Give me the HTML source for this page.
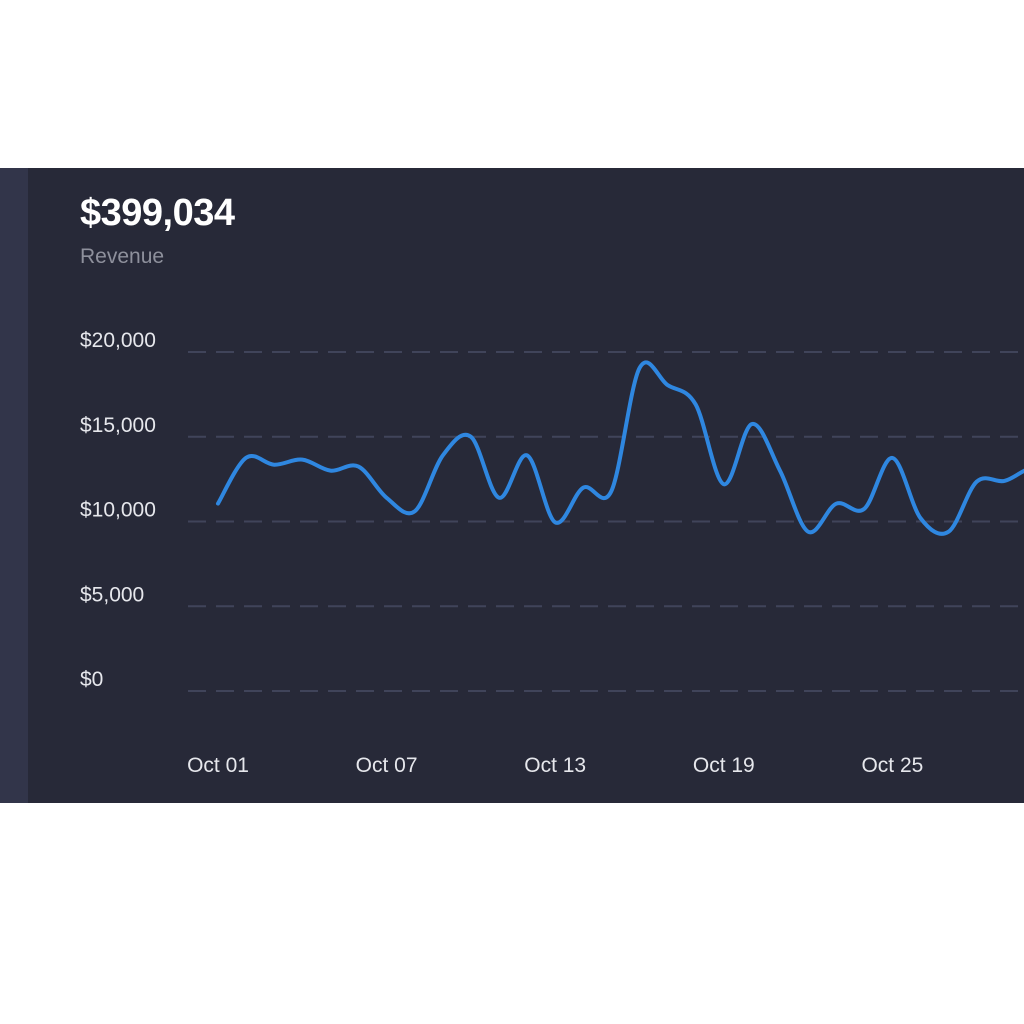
<!DOCTYPE html>
<html><head><meta charset="utf-8"><style>
html,body{margin:0;padding:0;background:#fff;width:1024px;height:1024px;overflow:hidden;font-family:"Liberation Sans",sans-serif}
#panel{position:absolute;left:0;top:168px;width:1024px;height:635px;background:#272938}
#strip{position:absolute;left:0;top:0;width:28px;height:635px;background:#32354a}
#total{position:absolute;left:80px;top:24px;color:#fff;font-size:38px;font-weight:bold;letter-spacing:-0.5px}
#label{position:absolute;left:80px;top:77px;color:#8e909c;font-size:21px}
svg{position:absolute;left:0;top:0}
</style></head><body>
<div id="panel">
<div id="strip"></div>
<div id="total">$399,034</div>
<div id="label">Revenue</div>
</div>
<svg id="chart" width="1024" height="1024"></svg>
<script>
const days = [1,2,3,4,5,6,7,8,9,10,11,12,13,14,15,16,17,18,19,20,21,22,23,24,25,26,27,28,29,30,31];
const revenue = [11060,13760,13350,13650,13000,13240,11400,10600,13900,15000,11400,13900,9950,12000,11800,19050,18050,16900,12200,15750,13000,9400,11050,10750,13750,10200,9400,12350,12400,13200,13000];
const yTicks = [0,5000,10000,15000,20000];
const yTickLabels = ["$0","$5,000","$10,000","$15,000","$20,000"];
const xTicks = [1,7,13,19,25];
const xTickLabels = ["Oct 01","Oct 07","Oct 13","Oct 19","Oct 25"];

const NS="http://www.w3.org/2000/svg";
const svg=document.getElementById('chart');
function x(d){return 218+(d-1)*28.1;}
function y(v){return 691-v*(339/20000);}
function mk(t,a){const e=document.createElementNS(NS,t);for(const k in a)e.setAttribute(k,a[k]);svg.appendChild(e);return e;}

yTicks.forEach((v,i)=>{
  const g=mk('line',{x1:188,x2:1024,y1:y(v),y2:y(v),stroke:'#40445a','stroke-width':2,'stroke-dasharray':'18 10'});
  
  
  const t=mk('text',{x:80,y:y(v)-5,fill:'#e6e7ec','font-size':21,'font-family':'Liberation Sans, sans-serif'});
  t.textContent=yTickLabels[i];
  
  
});
xTicks.forEach((d,i)=>{
  const t=mk('text',{x:x(d),y:772,fill:'#e6e7ec','font-size':21,'text-anchor':'middle','font-family':'Liberation Sans, sans-serif'});
  t.textContent=xTickLabels[i];
  
  
});
const pts=days.map((d,i)=>[x(d),y(revenue[i])]);
let p='M'+pts[0][0]+','+pts[0][1];
for(let i=0;i<pts.length-1;i++){
  const p0=pts[i-1]||pts[i],p1=pts[i],p2=pts[i+1],p3=pts[i+2]||p2;
  const c1=[p1[0]+(p2[0]-p0[0])/6,p1[1]+(p2[1]-p0[1])/6];
  const c2=[p2[0]-(p3[0]-p1[0])/6,p2[1]-(p3[1]-p1[1])/6];
  p+=' C'+c1[0]+','+c1[1]+' '+c2[0]+','+c2[1]+' '+p2[0]+','+p2[1];
}
const line=mk('path',{d:p,fill:'none',stroke:'#2f87e0','stroke-width':4,'stroke-linejoin':'round','stroke-linecap':'round'});


</script>
</body></html>
